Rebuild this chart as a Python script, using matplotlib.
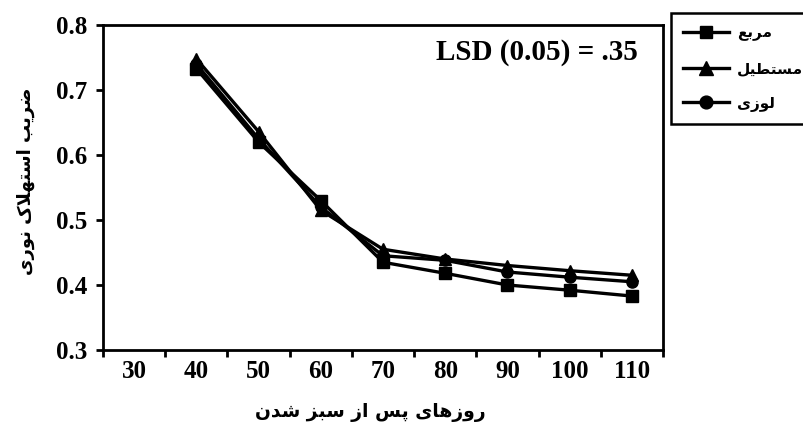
import matplotlib
matplotlib.use("Agg")
import matplotlib.pyplot as plt
import numpy as np

# ---------------- data ----------------
categories = ["30", "40", "50", "60", "70", "80", "90", "100", "110"]
square_vals = [None, 0.733, 0.620, 0.530, 0.435, 0.418, 0.400, 0.392, 0.383]
triangle_vals = [None, 0.748, 0.636, 0.515, 0.455, 0.440, 0.430, 0.422, 0.415]
circle_vals = [None, 0.740, 0.625, 0.520, 0.445, 0.438, 0.420, 0.412, 0.405]
series_names = ["مربع", "مستطیل", "لوزی"]
y_ticks = [0.3, 0.4, 0.5, 0.6, 0.7, 0.8]
x_title = "روزهای پس از سبز شدن"
y_title = "ضریب استهلاک نوری"
note = "LSD (0.05) = .35"

# ---------------- simple Arabic/Persian shaping ----------------
DUAL = {
    'ب': (0xFE8F, 0xFE90, 0xFE91, 0xFE92),
    'پ': (0xFB56, 0xFB57, 0xFB58, 0xFB59),
    'ت': (0xFE95, 0xFE96, 0xFE97, 0xFE98),
    'ج': (0xFE9D, 0xFE9E, 0xFE9F, 0xFEA0),
    'س': (0xFEB1, 0xFEB2, 0xFEB3, 0xFEB4),
    'ش': (0xFEB5, 0xFEB6, 0xFEB7, 0xFEB8),
    'ض': (0xFEBD, 0xFEBE, 0xFEBF, 0xFEC0),
    'ط': (0xFEC1, 0xFEC2, 0xFEC3, 0xFEC4),
    'ع': (0xFEC9, 0xFECA, 0xFECB, 0xFECC),
    'ک': (0xFB8E, 0xFB8F, 0xFB90, 0xFB91),
    'ل': (0xFEDD, 0xFEDE, 0xFEDF, 0xFEE0),
    'م': (0xFEE1, 0xFEE2, 0xFEE3, 0xFEE4),
    'ن': (0xFEE5, 0xFEE6, 0xFEE7, 0xFEE8),
    'ه': (0xFEE9, 0xFEEA, 0xFEEB, 0xFEEC),
    'ی': (0xFBFC, 0xFBFD, 0xFBFE, 0xFBFF),
}
RIGHT = {
    'ا': (0xFE8D, 0xFE8E),
    'د': (0xFEA9, 0xFEAA),
    'ر': (0xFEAD, 0xFEAE),
    'ز': (0xFEAF, 0xFEB0),
    'و': (0xFEED, 0xFEEE),
}


def shape(text):
    chars = list(text)
    out = []
    i = 0
    n = len(chars)
    while i < n:
        c = chars[i]
        prev = chars[i - 1] if i > 0 else None
        nxt = chars[i + 1] if i < n - 1 else None
        join_prev = prev in DUAL
        if c == 'ل' and nxt == 'ا':
            out.append(chr(0xFEFC if join_prev else 0xFEFB))
            i += 2
            continue
        if c in DUAL:
            join_next = nxt in DUAL or nxt in RIGHT
            f = DUAL[c]
            if join_prev and join_next:
                out.append(chr(f[3]))
            elif join_prev:
                out.append(chr(f[1]))
            elif join_next:
                out.append(chr(f[2]))
            else:
                out.append(chr(f[0]))
        elif c in RIGHT:
            f = RIGHT[c]
            out.append(chr(f[1] if join_prev else f[0]))
        else:
            out.append(c)
        i += 1
    return "".join(out)[::-1]


# ---------------- figure ----------------
fig = plt.figure(figsize=(8.04, 4.30), dpi=100)
ax = fig.add_axes([103 / 804, 1 - 350 / 430, (663 - 103) / 804, (350 - 25) / 430])

x = np.arange(len(categories))
serif = "Liberation Serif"
arabic = ["DejaVu Sans"]


def to_arr(v):
    return np.array([np.nan if a is None else a for a in v], dtype=float)


lw = 2.4
ax.plot(x, to_arr(square_vals), color="black", lw=lw, marker="s", ms=8, label=shape(series_names[0]))
ax.plot(x, to_arr(triangle_vals), color="black", lw=lw, marker="^", ms=9, label=shape(series_names[1]))
ax.plot(x, to_arr(circle_vals), color="black", lw=lw, marker="o", ms=8, label=shape(series_names[2]))

ax.set_xlim(-0.5, len(categories) - 0.5)
ax.set_ylim(0.3, 0.8)
ax.set_yticks(y_ticks)
ax.set_yticklabels([f"{v:.1f}" for v in y_ticks], fontfamily=serif, fontweight="bold", fontsize=18)
ax.set_xticks(x)
ax.set_xticklabels(categories, fontfamily=serif, fontweight="bold", fontsize=18)
ax.set_xticks(np.arange(-0.5, len(categories), 1.0), minor=True)
ax.tick_params(axis="x", which="major", length=0, pad=7)
ax.tick_params(axis="x", which="minor", length=5, width=2, direction="out")
ax.tick_params(axis="y", length=5, width=2, direction="out", pad=6)

for s in ax.spines.values():
    s.set_linewidth(2)
    s.set_color("black")

ax.text(0.955, 0.915, note, transform=ax.transAxes, ha="right", va="center",
        fontfamily=serif, fontweight="bold", fontsize=21)

fig.text(370 / 804, 1 - 412 / 430, shape(x_title), ha="center", va="center",
         fontfamily=arabic, fontweight="bold", fontsize=13.5)
fig.text(26 / 804, 1 - 181 / 430, shape(y_title), ha="center", va="center", rotation=90,
         fontfamily=arabic, fontweight="bold", fontsize=13)

leg = fig.legend(loc="upper left", bbox_to_anchor=(671 / 804, 1 - 13 / 430),
                 frameon=True, fancybox=False, edgecolor="black", framealpha=1,
                 prop={"family": arabic, "weight": "bold", "size": 11},
                 handlelength=3.0, handletextpad=0.5, labelspacing=1.3,
                 borderpad=0.8, borderaxespad=0, markerscale=1.15)
leg.get_frame().set_linewidth(1.8)

fig.savefig("out.png", dpi=100)
